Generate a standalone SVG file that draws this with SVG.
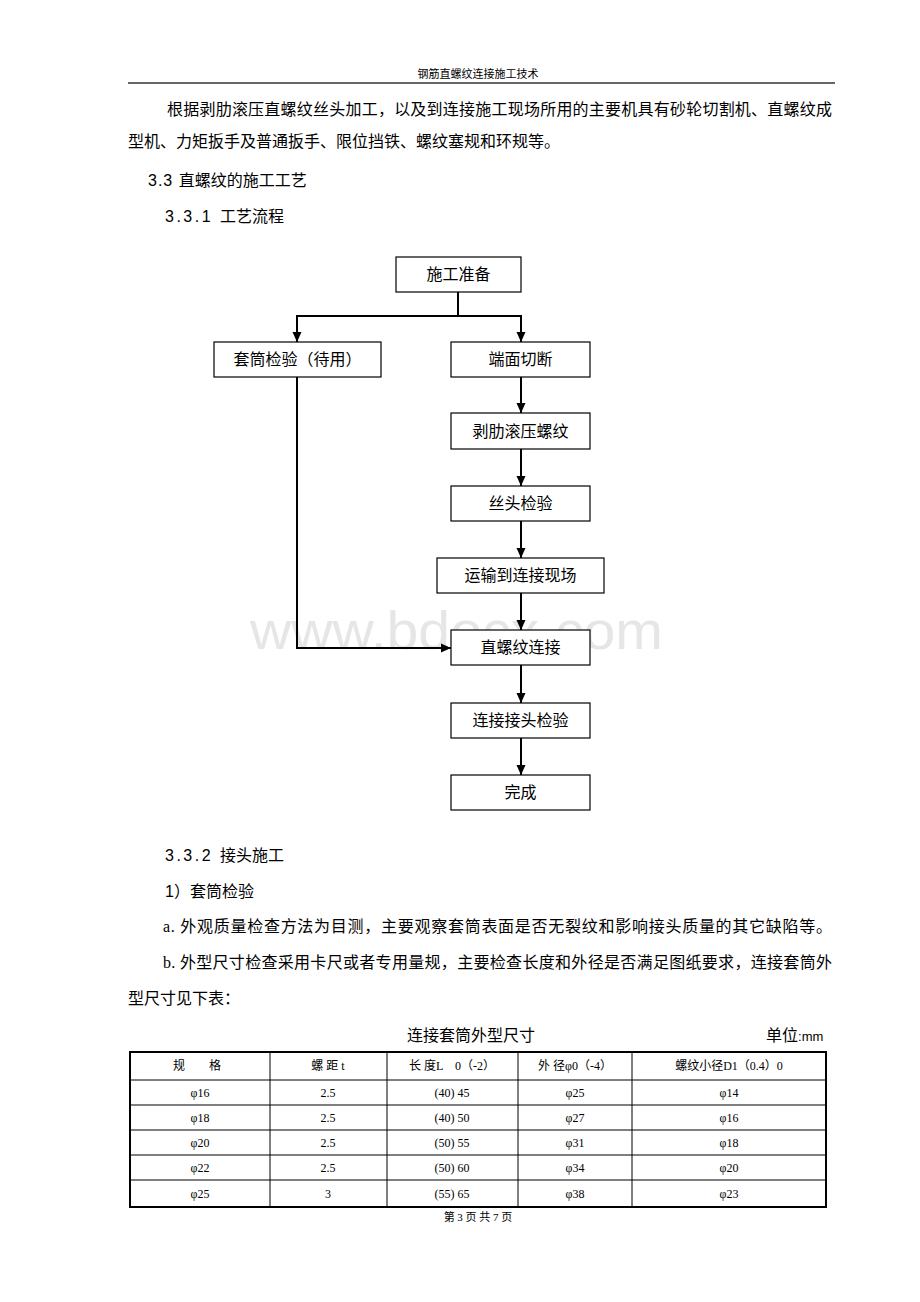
<svg xmlns="http://www.w3.org/2000/svg" width="920" height="1302" viewBox="0 0 920 1302">
<style>
.body{font-family:"Liberation Serif","Noto Sans CJK SC",serif;font-size:16px;fill:#000}
.hd{font-family:"Liberation Sans","Noto Sans CJK SC",sans-serif;font-size:16px;fill:#000}
.small{font-family:"Liberation Serif","Noto Sans CJK SC",serif;font-size:11px;fill:#000}
.box rect{fill:#fff;stroke:#000;stroke-width:1.2}
.box text{font-family:"Noto Sans CJK SC",sans-serif;font-size:16px;fill:#000;text-anchor:middle}
.conn line,.conn polyline{stroke:#000;stroke-width:2;fill:none}
.cell{font-family:"Liberation Serif","Noto Sans CJK SC",serif;font-size:12px;fill:#000;text-anchor:middle}
.grid line{stroke:#000;stroke-width:1}
</style>
<defs>
<marker id="ah" markerUnits="userSpaceOnUse" markerWidth="10" markerHeight="10" refX="10" refY="5" orient="auto">
<path d="M0,0.5 L10,5 L0,9.5 z" fill="#000"/>
</marker>
</defs>
<rect x="0" y="0" width="920" height="1302" fill="#fff"/>
<!-- watermark -->
<text x="250" y="649" font-family="Liberation Sans, sans-serif" font-size="54" fill="#e6e6e6" textLength="413" lengthAdjust="spacingAndGlyphs">www.bdocx.com</text>
<!-- header -->
<text class="small" x="478" y="78" text-anchor="middle">钢筋直螺纹连接施工技术</text>
<line x1="128" y1="83" x2="835" y2="83" stroke="#333" stroke-width="1.6"/>
<!-- paragraphs -->
<text class="body" x="167" y="115" textLength="665" lengthAdjust="spacing">根据剥肋滚压直螺纹丝头加工，以及到连接施工现场所用的主要机具有砂轮切割机、直螺纹成</text>
<text class="body" x="128" y="147">型机、力矩扳手及普通扳手、限位挡铁、螺纹塞规和环规等。</text>
<text class="hd" x="148" y="186"><tspan letter-spacing="1">3.3 </tspan>直螺纹的施工工艺</text>
<text class="hd" x="165" y="222"><tspan letter-spacing="2.5">3.3.1 </tspan>工艺流程</text>
<!-- connectors -->
<g id="connectors" class="conn">
<line x1="458" y1="292" x2="458" y2="316"/>
<line x1="296" y1="316" x2="522" y2="316"/>
<line x1="297" y1="316" x2="297" y2="342" marker-end="url(#ah)"/>
<line x1="521" y1="316" x2="521" y2="342" marker-end="url(#ah)"/>
<polyline points="297,377 297,648 451,648" marker-end="url(#ah)"/>
<line x1="521" y1="377" x2="521" y2="413" marker-end="url(#ah)"/>
<line x1="521" y1="449" x2="521" y2="486" marker-end="url(#ah)"/>
<line x1="521" y1="521" x2="521" y2="558" marker-end="url(#ah)"/>
<line x1="521" y1="593" x2="521" y2="630" marker-end="url(#ah)"/>
<line x1="521" y1="665" x2="521" y2="703" marker-end="url(#ah)"/>
<line x1="521" y1="738" x2="521" y2="775" marker-end="url(#ah)"/>
</g>
<!-- nodes -->
<g id="n-prep" class="box"><rect x="396" y="257" width="125" height="35"/><text x="458.5" y="280">施工准备</text></g>
<g id="n-sleeve" class="box"><rect x="214" y="342" width="167" height="35"/><text x="297.5" y="365">套筒检验（待用）</text></g>
<g id="n-cut" class="box"><rect x="451" y="342" width="139" height="35"/><text x="520.5" y="365">端面切断</text></g>
<g id="n-roll" class="box"><rect x="451" y="413" width="139" height="36"/><text x="520.5" y="437">剥肋滚压螺纹</text></g>
<g id="n-check" class="box"><rect x="451" y="486" width="139" height="35"/><text x="520.5" y="509">丝头检验</text></g>
<g id="n-transport" class="box"><rect x="437" y="558" width="167" height="35"/><text x="520.5" y="581">运输到连接现场</text></g>
<g id="n-connect" class="box"><rect x="451" y="630" width="139" height="35"/><text x="520.5" y="653">直螺纹连接</text></g>
<g id="n-inspect" class="box"><rect x="451" y="703" width="139" height="35"/><text x="520.5" y="726">连接接头检验</text></g>
<g id="n-done" class="box"><rect x="451" y="775" width="139" height="35"/><text x="520.5" y="798">完成</text></g>
<!-- section 3.3.2 -->
<text class="hd" x="165" y="861"><tspan letter-spacing="2.5">3.3.2 </tspan>接头施工</text>
<text class="hd" x="165" y="897">1）套筒检验</text>
<text class="body" x="163" y="932" textLength="669" lengthAdjust="spacing">a. 外观质量检查方法为目测，主要观察套筒表面是否无裂纹和影响接头质量的其它缺陷等。</text>
<text class="body" x="163" y="968" textLength="669" lengthAdjust="spacing">b. 外型尺寸检查采用卡尺或者专用量规，主要检查长度和外径是否满足图纸要求，连接套筒外</text>
<text class="body" x="128" y="1004">型尺寸见下表：</text>
<!-- table -->
<text class="hd" x="471" y="1041" text-anchor="middle">连接套筒外型尺寸</text>
<text class="hd" x="766" y="1041">单位<tspan font-size="13">:mm</tspan></text>
<g id="table">
<g class="grid">
<line x1="130" y1="1080" x2="826" y2="1080"/>
<line x1="130" y1="1105" x2="826" y2="1105"/>
<line x1="130" y1="1130" x2="826" y2="1130"/>
<line x1="130" y1="1155" x2="826" y2="1155"/>
<line x1="130" y1="1180" x2="826" y2="1180"/>
<line x1="270" y1="1052" x2="270" y2="1207"/>
<line x1="387" y1="1052" x2="387" y2="1207"/>
<line x1="518" y1="1052" x2="518" y2="1207"/>
<line x1="632" y1="1052" x2="632" y2="1207"/>
</g>
<rect x="130" y="1052" width="696" height="155" fill="none" stroke="#000" stroke-width="2"/>
<text class="cell" x="197" y="1070">规　　格</text>
<text class="cell" x="328" y="1070">螺 距 t</text>
<text class="cell" x="452" y="1070">长 度L　0（-2）</text>
<text class="cell" x="575" y="1070">外 径φ0（-4）</text>
<text class="cell" x="729" y="1070">螺纹小径D1（0.4）0</text>
<text class="cell" x="200" y="1097">φ16</text><text class="cell" x="328" y="1097">2.5</text><text class="cell" x="452" y="1097">(40) 45</text><text class="cell" x="575" y="1097">φ25</text><text class="cell" x="729" y="1097">φ14</text>
<text class="cell" x="200" y="1122">φ18</text><text class="cell" x="328" y="1122">2.5</text><text class="cell" x="452" y="1122">(40) 50</text><text class="cell" x="575" y="1122">φ27</text><text class="cell" x="729" y="1122">φ16</text>
<text class="cell" x="200" y="1147">φ20</text><text class="cell" x="328" y="1147">2.5</text><text class="cell" x="452" y="1147">(50) 55</text><text class="cell" x="575" y="1147">φ31</text><text class="cell" x="729" y="1147">φ18</text>
<text class="cell" x="200" y="1172">φ22</text><text class="cell" x="328" y="1172">2.5</text><text class="cell" x="452" y="1172">(50) 60</text><text class="cell" x="575" y="1172">φ34</text><text class="cell" x="729" y="1172">φ20</text>
<text class="cell" x="200" y="1198">φ25</text><text class="cell" x="328" y="1198">3</text><text class="cell" x="452" y="1198">(55) 65</text><text class="cell" x="575" y="1198">φ38</text><text class="cell" x="729" y="1198">φ23</text>
</g>
<!-- footer -->
<text class="small" x="478" y="1221" text-anchor="middle">第 3 页 共 7 页</text>
</svg>
